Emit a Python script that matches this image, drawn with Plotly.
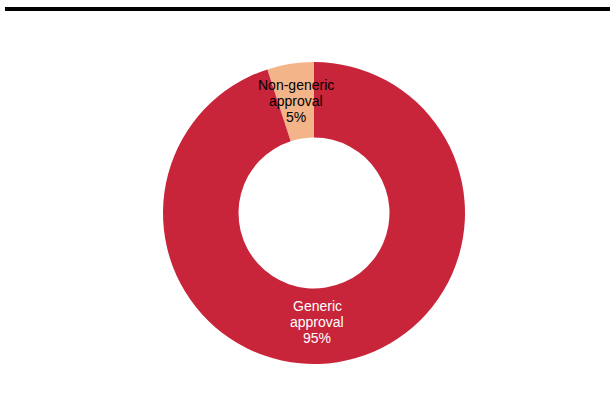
import plotly.graph_objects as go

labels = ["Non-generic approval", "Generic approval"]
values = [5, 95]
label_lines = [["Non-generic", "approval", "5%"], ["Generic", "approval", "95%"]]
colors = ["#F3B48A", "#C8243A"]
text_colors = ["#000000", "#FFFFFF"]

W, H = 610, 412
cx, cy, R = 314, 213, 151
label_centers = [(296, 101), (317, 322)]
line_step = 16

fig = go.Figure(go.Pie(
    labels=labels, values=values, sort=False, direction="clockwise", rotation=-18,
    hole=0.5, marker=dict(colors=colors, line=dict(width=0)),
    textinfo="none", hoverinfo="label+percent", showlegend=False,
    domain=dict(x=[(cx - R) / W, (cx + R) / W], y=[(H - cy - R) / H, (H - cy + R) / H]),
))

for lines, (lx, ly), tc in zip(label_lines, label_centers, text_colors):
    n = len(lines)
    for i, t in enumerate(lines):
        py = ly + (i - (n - 1) / 2) * line_step
        fig.add_annotation(x=lx / W, y=1 - py / H, xref="paper", yref="paper", text=t,
                           xanchor="center", yanchor="middle", showarrow=False,
                           font=dict(family="Arial, Liberation Sans", size=14, color=tc))

fig.add_shape(type="line", xref="paper", yref="paper", x0=5 / W, x1=1, y0=1 - 9 / H, y1=1 - 9 / H,
              line=dict(color="black", width=4))

fig.update_layout(width=W, height=H, margin=dict(l=0, r=0, t=0, b=0),
                  paper_bgcolor="white", plot_bgcolor="white",
                  font=dict(family="Arial, Liberation Sans"))
fig.write_html("out.html")
